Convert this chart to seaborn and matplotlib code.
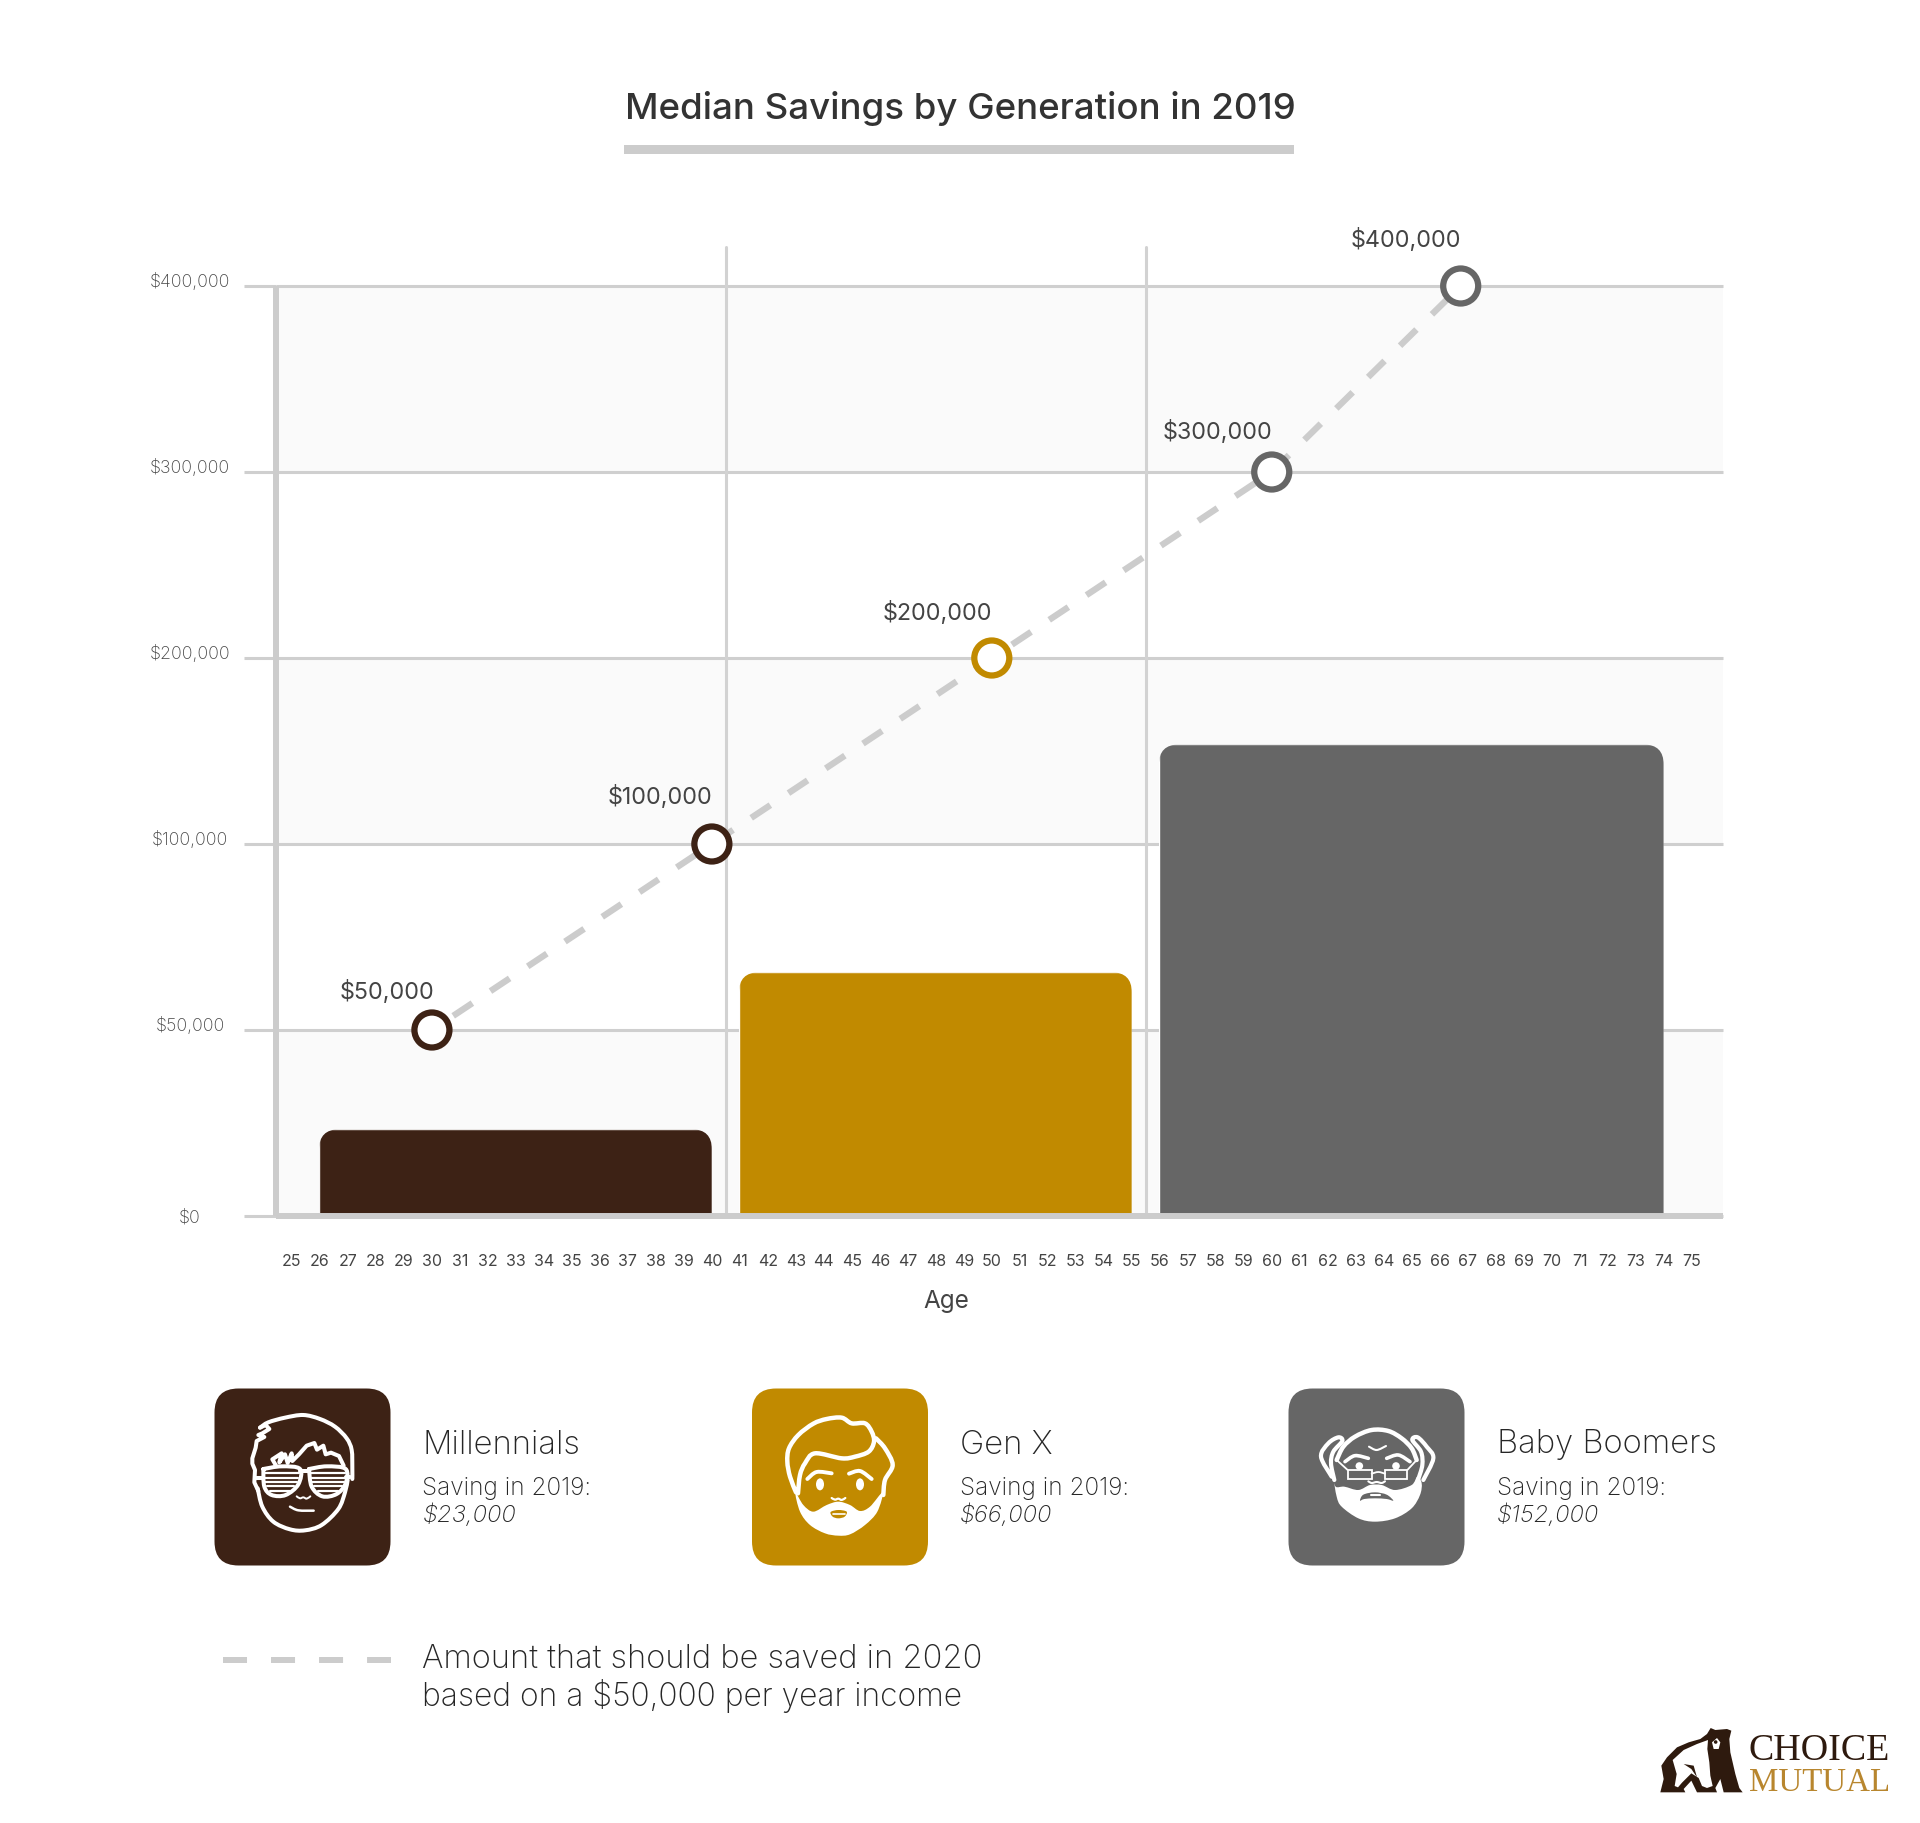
"""Median savings by generation, with target savings by age and icon legend."""
from __future__ import annotations

import matplotlib
matplotlib.use("Agg")
import matplotlib.pyplot as plt
import matplotlib.transforms as mtrans
import numpy as np
import seaborn as sns
from matplotlib.patches import Circle, Ellipse, FancyBboxPatch, PathPatch, Polygon, Rectangle
from matplotlib.path import Path

GENERATIONS = ["Millennials", "Gen X", "Baby Boomers"]
SAVINGS_2019 = [23000, 66000, 152000]  # as printed in the cards
BAR_HEIGHT = [23300, 65500, 153500]    # as drawn in the chart
BAR_FIRST_AGE = [25.97, 40.97, 55.97]
BAR_LAST_AGE = [40, 55, 74]
COLORS = ["#3d2215", "#c18a00", "#666666"]

TARGET_AGE = [30, 40, 50, 60, 66.75]
TARGET_AMOUNT = [50000, 100000, 200000, 300000, 400000]
TARGET_GROUP = ["Millennials", "Millennials", "Gen X", "Baby Boomers", "Baby Boomers"]

AGES = list(range(25, 76))
Y_TICKS = [0, 50000, 100000, 200000, 300000, 400000]
DIVIDER_AGES = [40.5, 55.5]

GREY = "#cccccc"
TEXT = "#262626"
FONT = ["Inter", "DejaVu Sans"]

sns.set_theme(style="white")
plt.rcParams["font.family"] = FONT


def y_forward(v):
    return np.interp(v, Y_TICKS, np.arange(len(Y_TICKS)))


def y_inverse(v):
    return np.interp(v, np.arange(len(Y_TICKS)), Y_TICKS)


fig = plt.figure(figsize=(19.2, 18.23), dpi=100, facecolor="white")
ax = fig.add_axes([276 / 1920, 607 / 1823, 1447 / 1920, 930 / 1823])

# --- bars
sns.barplot(
    x=[(a + b) / 2 for a, b in zip(BAR_FIRST_AGE, BAR_LAST_AGE)],
    y=BAR_HEIGHT,
    hue=GENERATIONS,
    palette=COLORS,
    native_scale=True,
    dodge=False,
    legend=False,
    saturation=1,
    ax=ax,
)
bars = [c[0] for c in ax.containers]
for bar, first, last in zip(bars, BAR_FIRST_AGE, BAR_LAST_AGE):
    bar.set_x(first)
    bar.set_width(last - first)

ax.set_yscale("function", functions=(y_forward, y_inverse))
ax.set_xlim(24.43, 76.12)
ax.set_ylim(0, 400000)

# alternate background bands
for low, high in [(0, 50000), (100000, 200000), (300000, 400000)]:
    ax.axhspan(low, high, color="#fafafa", lw=0, zorder=0)

for age in DIVIDER_AGES:
    ax.plot([age, age], [0, 1.042], color="#d2d2d2", lw=2.2, clip_on=False,
            transform=ax.get_xaxis_transform(), zorder=1)

# --- target line and markers
sns.lineplot(x=TARGET_AGE, y=TARGET_AMOUNT, color=GREY, lw=4.6,
             linestyle=(3.0, (3.6, 3.4)), ax=ax, zorder=4, errorbar=None)
sns.scatterplot(x=TARGET_AGE, y=TARGET_AMOUNT, hue=TARGET_GROUP,
                palette=dict(zip(GENERATIONS, COLORS)), s=635, legend=False,
                clip_on=False, zorder=5, ax=ax)
dots = ax.collections[-1]
dots.set_edgecolors(dots.get_facecolors())
dots.set_facecolors("white")
dots.set_linewidth(4.5)

label_offsets = [(-32, 27.5), (-37, 33.5), (-39.5, 32.5), (-39, 29), (-39.5, 33)]
for age, amount, off in zip(TARGET_AGE, TARGET_AMOUNT, label_offsets):
    ax.annotate(f"${amount:,}", (age, amount), xytext=off, textcoords="offset points",
                ha="center", va="center", fontsize=16.8, color="#444444",
                annotation_clip=False, zorder=6)

# --- axes
ax.set_xticks(AGES)
ax.set_xticklabels([str(a) for a in AGES])
ax.set_yticks(Y_TICKS)
ax.set_yticklabels([f"${v:,}" for v in Y_TICKS], fontweight="light")
ax.set_xlabel("Age", fontsize=17.5, color="#444444", va="center")
ax.xaxis.set_label_coords(0.4634, -0.0915)
ax.set_ylabel("")
ax.minorticks_off()
ax.set_axisbelow(True)
ax.grid(axis="y", color="#cfcfcf", lw=2.2, clip_on=False, solid_capstyle="butt")
ax.grid(axis="x", visible=False)
ax.tick_params(axis="x", length=0, pad=27, labelsize=11.5, labelcolor="#444444")
ax.tick_params(axis="y", length=23, width=2.2, color="#cfcfcf", pad=39,
               labelsize=12.8, labelcolor="#444444", left=True)
for tick_label, value in zip(ax.get_yticklabels(), Y_TICKS):
    tick_label.set_ha("center")
    if value > 0:
        tick_label.set_transform(tick_label.get_transform() + mtrans.Affine2D().translate(0, 6))
sns.despine(ax=ax)
for side in ["left", "bottom"]:
    ax.spines[side].set_color(GREY)
    ax.spines[side].set_linewidth(4.3)
    ax.spines[side].set_capstyle("butt")

# round the top corners of the bars (pixel space, figure dpi is fixed)
for bar in bars:
    x0, y0 = ax.transData.transform((bar.get_x(), 0))
    x1, y1 = ax.transData.transform((bar.get_x() + bar.get_width(), bar.get_height()))
    clip = FancyBboxPatch((x0, y0 - 40), x1 - x0, y1 - y0 + 40,
                          boxstyle="round,pad=0,rounding_size=20",
                          transform=mtrans.IdentityTransform())
    bar.set_clip_path(clip)

# --- overlay in pixel coordinates: title, cards, legend, logo
ov = fig.add_axes([0, 0, 1, 1], zorder=10)
ov.set_xlim(0, 1920)
ov.set_ylim(1823, 0)
ov.axis("off")

ov.text(960, 109, "Median Savings by Generation in 2019", ha="center", va="center",
        fontsize=26.4, color="#333333", fontweight="medium")
ov.add_patch(Rectangle((624, 145), 670, 9, fc=GREY, ec="none"))


def catmull(pts, closed=False):
    pts = np.asarray(pts, float)
    if closed:
        p = np.vstack([pts[-1], pts, pts[0], pts[1]])
    else:
        p = np.vstack([pts[0], pts, pts[-1]])
    verts = [p[1]]
    codes = [Path.MOVETO]
    for i in range(1, len(p) - 2):
        verts += [p[i] + (p[i + 1] - p[i - 1]) / 6, p[i + 1] - (p[i + 2] - p[i]) / 6, p[i + 1]]
        codes += [Path.CURVE4] * 3
    return Path(verts, codes)


class Icon:
    """Draws in the 3x zoom coordinates of a 140 px box anchored at (x0, y0)."""

    def __init__(self, x0, y0, fg="white"):
        self.o = np.array([x0, y0], float)
        self.fg = fg

    def _xy(self, pts):
        return np.asarray(pts, float) / 3 + self.o

    def curve(self, pts, lw=2.9, color=None):
        ov.add_patch(PathPatch(catmull(self._xy(pts)), fc="none", ec=color or self.fg, lw=lw,
                               capstyle="round", joinstyle="round"))

    def poly(self, pts, lw=2.9, color=None):
        ov.add_patch(PathPatch(Path(self._xy(pts)), fc="none", ec=color or self.fg, lw=lw,
                               capstyle="round", joinstyle="round"))

    def blob(self, pts, color=None):
        ov.add_patch(PathPatch(catmull(self._xy(pts), closed=True), fc=color or self.fg, ec="none"))


CARD_X = [214.5, 752, 1288.5]
TEXT_X = [422.5, 960, 1497]
for x, tx, color, name, value in zip(CARD_X, TEXT_X, COLORS, GENERATIONS, SAVINGS_2019):
    ov.add_patch(FancyBboxPatch((x, 1388.5), 176, 177, boxstyle="round,pad=0,rounding_size=24",
                                fc=color, ec="none"))
    ov.text(tx, 1445, name, fontsize=23.6, color=TEXT, va="center", fontweight="light")
    ov.text(tx, 1488, "Saving in 2019:", fontsize=17.5, color=TEXT, va="center", fontweight="light")
    ov.text(tx, 1515, f"${value:,}", fontsize=17.2, color=TEXT, va="center", style="italic",
            fontweight="light")

# millennial face
m = Icon(235, 1405)
m.curve([(75, 68), (100, 52), (150, 38), (205, 30), (255, 42), (300, 65), (335, 100), (350, 135),
         (352, 190), (352, 222)])
m.poly([(75, 68), (92, 60), (103, 72), (82, 85), (70, 90), (88, 96), (65, 108), (62, 128),
        (52, 160), (52, 176), (60, 195), (58, 232), (70, 258)])
m.curve([(68, 250), (82, 305), (115, 350), (165, 373), (210, 376), (260, 360), (310, 312),
         (330, 262), (338, 225)])
m.poly([(122, 180), (112, 163), (140, 145), (133, 172), (150, 148), (158, 174), (170, 145),
        (172, 168), (192, 148), (215, 122), (238, 114), (246, 134), (265, 122), (272, 148),
        (288, 143), (312, 153), (326, 182)])
m.curve([(85, 192), (140, 184), (195, 192), (190, 238), (152, 270), (110, 270), (88, 245), (85, 192)])
m.curve([(222, 192), (275, 184), (332, 192), (332, 235), (305, 267), (262, 274), (230, 245), (222, 192)])
m.poly([(195, 198), (222, 198)])
m.poly([(60, 218), (85, 218)])
m.poly([(332, 216), (346, 216)])
for y, a, b, c, d in [(205, 88, 192, 226, 330), (218, 89, 190, 228, 330), (231, 91, 186, 232, 328),
                      (244, 96, 178, 238, 322), (257, 106, 165, 248, 310)]:
    m.poly([(a, y), (b, y)], lw=1.6)
    m.poly([(c, y), (d, y)], lw=1.6)
m.curve([(185, 274), (195, 280), (205, 277), (215, 281), (226, 274)], lw=1.4)
m.curve([(165, 305), (190, 316), (236, 317)], lw=1.8)

# gen x face
g = Icon(770, 1405)
g.curve([(78, 262), (60, 215), (52, 170), (57, 130), (85, 90), (130, 56), (170, 42), (215, 38),
         (245, 55), (285, 55), (305, 80), (312, 110), (296, 140), (255, 155), (215, 160),
         (135, 145), (105, 175), (90, 210), (84, 265)], lw=3.2)
g.curve([(318, 100), (345, 130), (368, 180), (345, 225), (340, 270)], lw=3.2)
g.blob([(76, 262), (100, 300), (130, 320), (170, 300), (205, 290), (240, 300), (270, 318), (300, 305),
        (338, 262), (322, 320), (285, 360), (240, 388), (205, 392), (165, 385), (120, 360), (90, 320)])
g.blob([(182, 321), (205, 315), (230, 320), (224, 335), (205, 340), (188, 335)], color=COLORS[1])
g.poly([(188, 327), (224, 327)], lw=1.2)
g.curve([(185, 279), (195, 284), (205, 281), (215, 285), (226, 279)], lw=1.6)
for cx in (150, 270):
    ov.add_patch(Ellipse(g._xy((cx, 238)), 8, 12, fc="white", ec="none"))
g.curve([(112, 222), (140, 201), (185, 205)], lw=2.8)
g.curve([(237, 206), (270, 198), (305, 222)], lw=2.8)

# boomer face
b = Icon(1305, 1405)
b.curve([(95, 165), (115, 125), (150, 95), (200, 75), (250, 78), (290, 100), (320, 130), (335, 165)], lw=3.2)
b.curve([(80, 215), (48, 155), (70, 115), (100, 97), (112, 108), (85, 140), (78, 175), (88, 225)], lw=3)
b.curve([(355, 225), (385, 160), (365, 125), (338, 97), (322, 105), (348, 140), (352, 180), (340, 222)], lw=3)
b.blob([(85, 215), (92, 245), (118, 245), (160, 255), (195, 240), (230, 240), (270, 255), (320, 240),
        (337, 215), (350, 235), (345, 270), (320, 310), (270, 340), (210, 350), (160, 340), (110, 305),
        (95, 275)])
b.blob([(165, 287), (175, 269), (210, 262), (245, 269), (265, 287), (245, 282), (210, 280), (178, 282)],
       color=COLORS[2])
b.poly([(197, 271), (226, 271)], lw=1.5)
for rx, rw in [(128, 72), (240, 67)]:
    ov.add_patch(Rectangle(b._xy((rx, 195)), rw / 3, 9, fc="none", ec="white", lw=1.3))
b.poly([(128, 195), (95, 165)], lw=1.3)
b.poly([(307, 195), (335, 165)], lw=1.3)
b.curve([(200, 206), (220, 201), (240, 206)], lw=1.3)
for cx in (163, 273):
    ov.add_patch(Circle(b._xy((cx, 183)), 3.8, fc="white", ec="none"))
b.curve([(120, 170), (150, 152), (190, 160)], lw=2.6)
b.curve([(245, 160), (280, 150), (315, 170)], lw=2.6)
b.curve([(192, 125), (215, 135), (243, 123)], lw=1.5)
b.curve([(190, 229), (200, 234), (215, 231), (230, 234), (240, 229)], lw=1.5)

# dashed legend entry
ov.plot([223, 391], [1660, 1660], color=GREY, lw=4.3, linestyle=(0, (4.02, 4.02)))
ov.text(422.5, 1659.5, "Amount that should be saved in 2020", fontsize=23.5, color=TEXT, va="center",
        fontweight="light")
ov.text(422.5, 1696, "based on a $50,000 per year income", fontsize=22.9, color=TEXT, va="center",
        fontweight="light")

# logo
BROWN = "#2e1a0e"
LOGO_XY = (1652, 1724)


def logo_poly(pts, color):
    ov.add_patch(Polygon(np.array(pts, float) / 3 + LOGO_XY, fc=color, ec="none"))


logo_poly([(25, 205), (35, 165), (28, 125), (45, 100), (75, 70), (110, 55), (145, 45), (165, 30),
           (176, 12), (190, 18), (225, 15), (238, 20), (232, 45), (235, 85), (250, 150), (262, 192),
           (272, 205), (215, 205), (205, 165), (190, 192), (195, 205), (135, 205), (118, 170),
           (95, 195), (100, 205)], BROWN)
logo_poly([(62, 108), (95, 78), (135, 60), (168, 48), (166, 75), (172, 115), (175, 155), (182, 186),
           (165, 192), (150, 186), (140, 162), (118, 148), (90, 176), (78, 190), (68, 186), (74, 150)],
          "white")
logo_poly([(95, 120), (125, 125), (135, 160), (118, 135)], BROWN)
logo_poly([(180, 55), (195, 42), (205, 55), (200, 75), (185, 75)], "white")
ov.add_patch(Circle((LOGO_XY[0] + 191 / 3, LOGO_XY[1] + 54 / 3), 1.8, fc=BROWN, ec="none"))
ov.text(1749, 1760, "CHOICE", fontsize=27.4, color=BROWN, family="Liberation Serif", va="baseline")
ov.text(1749, 1791, "MUTUAL", fontsize=23.7, color="#b8862e", family="Liberation Serif", va="baseline")

fig.savefig("out.png", dpi=100)
